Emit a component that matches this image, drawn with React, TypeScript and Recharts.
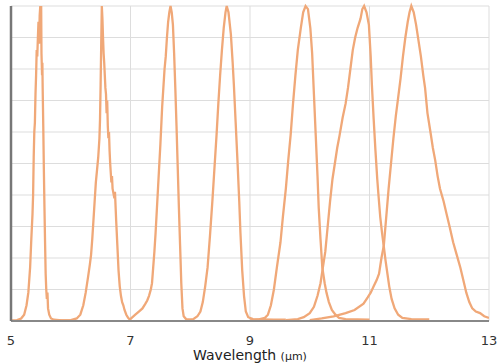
import React from "react";
import { LineChart, Line, XAxis, YAxis, CartesianGrid } from "recharts";

// Filter transmission curves: [wavelength (µm), relative transmission]
const filter55: [number, number][] = [
  [5.0, 0.002], [5.1, 0.003], [5.17, 0.008], [5.22, 0.02], [5.26, 0.05], [5.29, 0.09], [5.32, 0.17],
  [5.34, 0.26], [5.36, 0.34], [5.37, 0.4], [5.38, 0.52], [5.39, 0.6], [5.4, 0.63], [5.41, 0.72],
  [5.42, 0.78], [5.43, 0.86], [5.44, 0.84], [5.45, 0.9], [5.46, 0.95], [5.47, 0.88], [5.48, 0.97],
  [5.49, 1.0], [5.5, 0.93], [5.505, 1.0], [5.51, 0.85], [5.52, 0.78], [5.525, 0.82], [5.53, 0.74],
  [5.54, 0.62], [5.55, 0.48], [5.56, 0.36], [5.57, 0.25], [5.58, 0.15], [5.59, 0.1], [5.6, 0.07],
  [5.61, 0.09], [5.62, 0.04], [5.64, 0.02], [5.67, 0.008], [5.72, 0.004], [5.85, 0.002], [6.0, 0.002],
];
const filter65: [number, number][] = [
  [5.8, 0.002], [6.0, 0.003], [6.1, 0.008], [6.16, 0.02], [6.21, 0.05], [6.25, 0.09], [6.29, 0.14],
  [6.32, 0.18], [6.34, 0.21], [6.36, 0.26], [6.38, 0.32], [6.4, 0.38], [6.42, 0.44], [6.44, 0.48],
  [6.46, 0.52], [6.48, 0.58], [6.49, 0.64], [6.5, 0.75], [6.51, 0.88], [6.52, 1.0], [6.53, 0.96],
  [6.54, 0.9], [6.55, 0.85], [6.56, 0.82], [6.57, 0.78], [6.58, 0.74], [6.59, 0.72], [6.6, 0.66],
  [6.61, 0.7], [6.62, 0.62], [6.63, 0.58], [6.64, 0.6], [6.65, 0.54], [6.66, 0.5], [6.67, 0.47],
  [6.68, 0.44], [6.69, 0.46], [6.7, 0.42], [6.72, 0.4], [6.74, 0.41], [6.76, 0.32], [6.78, 0.24],
  [6.8, 0.16], [6.82, 0.11], [6.84, 0.08], [6.86, 0.06], [6.88, 0.05], [6.9, 0.035], [6.93, 0.02],
  [6.96, 0.01], [7.0, 0.003],
];
const filter77: [number, number][] = [
  [6.98, 0.003], [7.02, 0.01], [7.08, 0.02], [7.14, 0.03], [7.2, 0.04], [7.25, 0.055], [7.28, 0.065],
  [7.31, 0.08], [7.34, 0.1], [7.36, 0.12], [7.38, 0.17], [7.4, 0.22], [7.42, 0.28], [7.44, 0.35],
  [7.46, 0.42], [7.48, 0.49], [7.5, 0.56], [7.52, 0.64], [7.53, 0.68], [7.55, 0.74], [7.57, 0.8],
  [7.59, 0.84], [7.61, 0.9], [7.63, 0.95], [7.65, 0.98], [7.67, 1.0], [7.69, 0.98], [7.71, 0.94],
  [7.73, 0.85], [7.75, 0.74], [7.77, 0.62], [7.79, 0.49], [7.81, 0.36], [7.83, 0.24], [7.85, 0.12],
  [7.87, 0.04], [7.89, 0.015], [7.93, 0.006], [8.0, 0.004], [8.05, 0.002],
];
const filter86: [number, number][] = [
  [7.95, 0.002], [8.05, 0.006], [8.12, 0.015], [8.17, 0.03], [8.21, 0.06], [8.25, 0.11], [8.29, 0.17],
  [8.33, 0.27], [8.37, 0.38], [8.41, 0.5], [8.44, 0.59], [8.47, 0.69], [8.5, 0.78], [8.53, 0.86],
  [8.56, 0.93], [8.59, 0.98], [8.61, 1.0], [8.64, 0.98], [8.68, 0.91], [8.71, 0.82], [8.73, 0.75],
  [8.76, 0.63], [8.79, 0.51], [8.82, 0.38], [8.84, 0.28], [8.87, 0.16], [8.9, 0.08], [8.93, 0.03],
  [8.97, 0.012], [9.05, 0.006], [9.2, 0.005], [9.4, 0.004], [9.6, 0.004],
];
const filter99: [number, number][] = [
  [9.0, 0.002], [9.15, 0.005], [9.25, 0.01], [9.3, 0.02], [9.35, 0.05], [9.4, 0.1], [9.45, 0.17],
  [9.51, 0.25], [9.55, 0.33], [9.6, 0.42], [9.64, 0.51], [9.68, 0.59], [9.72, 0.69], [9.76, 0.78],
  [9.8, 0.86], [9.85, 0.93], [9.89, 0.98], [9.93, 1.0], [9.97, 0.99], [10.01, 0.93], [10.04, 0.85],
  [10.07, 0.72], [10.1, 0.59], [10.13, 0.46], [10.15, 0.36], [10.18, 0.26], [10.21, 0.17],
  [10.25, 0.12], [10.28, 0.09], [10.32, 0.06], [10.37, 0.035], [10.43, 0.02], [10.49, 0.01],
  [10.6, 0.006], [10.8, 0.005], [11.0, 0.004],
];
const filter109: [number, number][] = [
  [9.6, 0.003], [9.8, 0.006], [9.9, 0.012], [10.0, 0.025], [10.07, 0.045], [10.13, 0.08], [10.18, 0.12],
  [10.22, 0.17], [10.26, 0.22], [10.3, 0.3], [10.34, 0.38], [10.38, 0.45], [10.42, 0.5], [10.46, 0.55],
  [10.5, 0.59], [10.55, 0.645], [10.6, 0.69], [10.64, 0.74], [10.68, 0.8], [10.72, 0.86], [10.76, 0.9],
  [10.8, 0.93], [10.85, 0.96], [10.88, 0.99], [10.91, 1.0], [10.95, 0.98], [10.99, 0.94], [11.02, 0.84],
  [11.04, 0.75], [11.07, 0.64], [11.1, 0.54], [11.13, 0.45], [11.15, 0.4], [11.18, 0.33], [11.21, 0.28],
  [11.24, 0.235], [11.27, 0.19], [11.3, 0.15], [11.33, 0.11], [11.37, 0.07], [11.42, 0.04],
  [11.48, 0.02], [11.55, 0.01], [11.7, 0.006], [12.0, 0.005],
];
const filter117: [number, number][] = [
  [10.0, 0.003], [10.2, 0.008], [10.4, 0.015], [10.6, 0.025], [10.75, 0.035], [10.9, 0.055],
  [10.97, 0.075], [11.02, 0.09], [11.07, 0.11], [11.12, 0.13], [11.16, 0.15], [11.2, 0.2], [11.24, 0.24],
  [11.28, 0.33], [11.32, 0.42], [11.36, 0.5], [11.4, 0.58], [11.44, 0.65], [11.48, 0.71], [11.52, 0.77],
  [11.56, 0.84], [11.6, 0.9], [11.64, 0.95], [11.67, 0.98], [11.7, 1.0], [11.74, 0.98], [11.78, 0.94],
  [11.82, 0.89], [11.86, 0.84], [11.9, 0.78], [11.93, 0.74], [11.97, 0.66], [12.02, 0.6], [12.06, 0.55],
  [12.1, 0.51], [12.14, 0.46], [12.18, 0.42], [12.24, 0.38], [12.29, 0.34], [12.34, 0.3], [12.4, 0.25],
  [12.46, 0.21], [12.52, 0.17], [12.57, 0.13], [12.62, 0.09], [12.67, 0.06], [12.72, 0.04],
  [12.78, 0.03], [12.85, 0.025], [12.92, 0.015], [13.0, 0.01],
];

const filters = [filter55, filter65, filter77, filter86, filter99, filter109, filter117];
const xTicks = [5, 7, 9, 11, 13];
const yTicks = [0, 0.1, 0.2, 0.3, 0.4, 0.5, 0.6, 0.7, 0.8, 0.9, 1.0];

const toRows = (pts: [number, number][]) => pts.map(([w, t]) => ({ w, t }));

const FONT = "'DejaVu Sans', sans-serif";

const AxisLabel = (props: any) => {
  const vb = props.viewBox || {};
  return (
    <text x={vb.x + vb.width / 2} y={vb.y + 39} textAnchor="middle" fill="#222" fontFamily={FONT}>
      <tspan fontSize={14}>Wavelength </tspan>
      <tspan fontSize={11}>(μm)</tspan>
    </text>
  );
};

const EmptyTick = () => <g />;

export default function App() {
  return (
    <div style={{ position: "absolute", left: 0, top: 0, width: 500, height: 363, background: "#fff" }}>
      <LineChart width={500} height={363} margin={{ top: 6, right: 11, bottom: 0, left: 10 }}>
        <CartesianGrid stroke="#dddddd" strokeWidth={1} />
        <XAxis
          type="number"
          dataKey="w"
          domain={[5, 13]}
          ticks={xTicks}
          height={42}
          tickLine={false}
          tickMargin={9}
          axisLine={{ stroke: "#888", strokeWidth: 2 }}
          tick={{ fill: "#333", fontSize: 13, fontFamily: FONT }}
          label={<AxisLabel />}
          allowDataOverflow
        />
        <YAxis
          type="number"
          domain={[0, 1]}
          ticks={yTicks}
          width={1}
          tick={<EmptyTick />}
          tickLine={false}
          axisLine={{ stroke: "#777", strokeWidth: 2.5 }}
          interval={0}
        />
        {filters.map((f, i) => (
          <Line
            key={i}
            data={toRows(f)}
            dataKey="t"
            type="linear"
            dot={false}
            activeDot={false}
            stroke="#f0a878"
            strokeWidth={2.3}
            isAnimationActive={false}
          />
        ))}
      </LineChart>
    </div>
  );
}
